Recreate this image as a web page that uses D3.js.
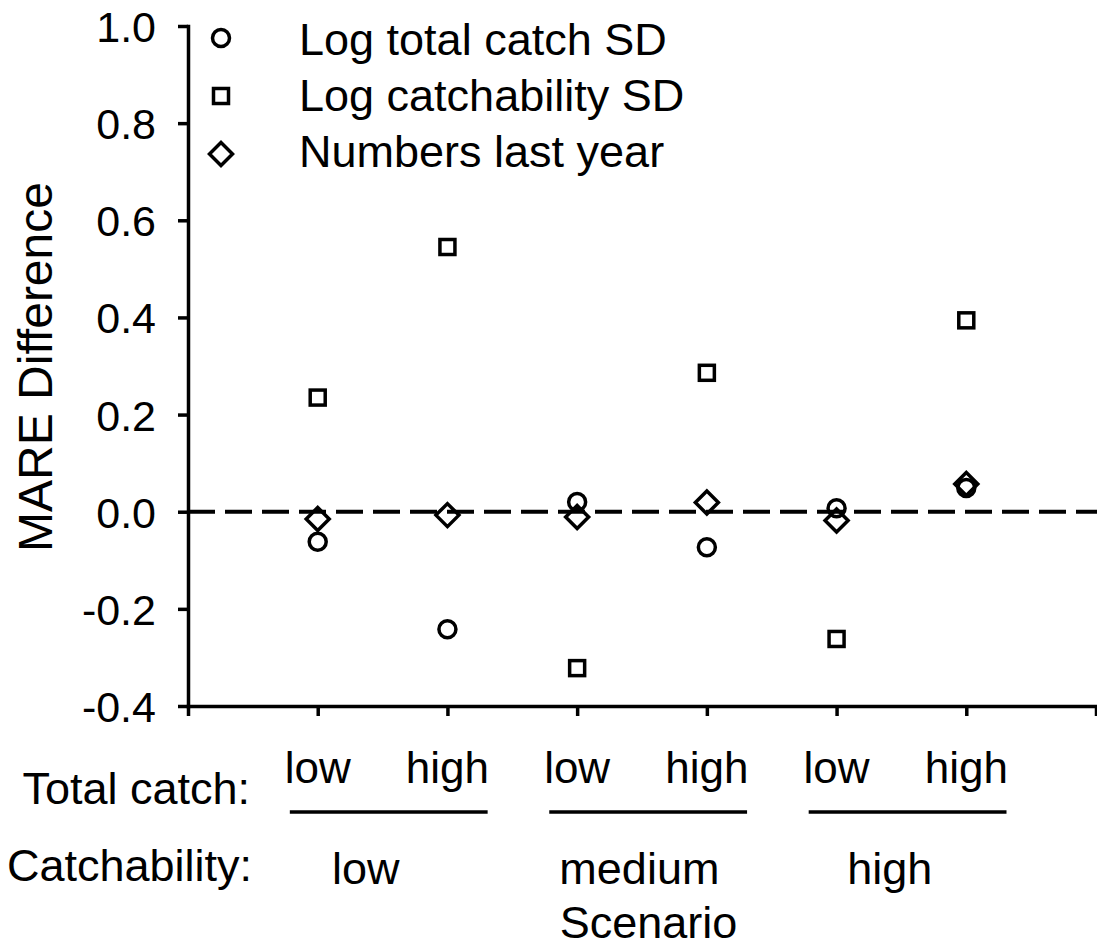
<!DOCTYPE html>
<html>
<head>
<meta charset="utf-8">
<script src="https://cdn.jsdelivr.net/npm/d3@7"></script>
<style>
  body { margin: 0; background: #fff; }
  text { font-family: "Liberation Sans", Arial, sans-serif; fill: #000; }
</style>
</head>
<body>
<div id="container"></div>
<script>
/* CONSTANTS AND GLOBALS */
const width = 1097;
const height = 949;

/* DATA */
// six scenarios, positions 1..6 on the x axis
const scenarios = [1, 2, 3, 4, 5, 6];
const totalCatchLabels = ["low", "high", "low", "high", "low", "high"];
const catchabilityLabels = ["low", "medium", "high"];
const catchabilityPos = [1.37, 3.48, 5.41];   // where the group labels sit (x units)
const groupPairs = [[1, 2], [3, 4], [5, 6]];

const logTotalCatchSD = [-0.062, -0.242, 0.020, -0.073, 0.007, 0.049];
const logCatchabilitySD = [0.235, 0.545, -0.322, 0.286, -0.262, 0.394];
const numbersLastYear = [-0.015, -0.007, -0.011, 0.019, -0.018, 0.057];

const yTicks = [-0.4, -0.2, 0.0, 0.2, 0.4, 0.6, 0.8, 1.0];
const legendNames = ["Log total catch SD", "Log catchability SD", "Numbers last year"];

/* SCALES */
const xScale = d3.scaleLinear()
  .domain([0, 7])
  .range([188, 1096]);

const yScale = d3.scaleLinear()
  .domain([-0.4, 1.0])
  .range([706, 26]);

/* HTML ELEMENTS */
const svg = d3.select("#container")
  .append("svg")
    .attr("width", width)
    .attr("height", height);

// symbols
const circle = (g, cx, cy) => g.append("circle")
  .attr("cx", cx).attr("cy", cy).attr("r", 8.5);
const square = (g, cx, cy) => g.append("rect")
  .attr("x", cx - 7.5).attr("y", cy - 7.5).attr("width", 15).attr("height", 15);
const diamond = (g, cx, cy) => g.append("path")
  .attr("d", `M${cx},${cy - 11.5}L${cx + 11.5},${cy}L${cx},${cy + 11.5}L${cx - 11.5},${cy}Z`);
const shapes = [circle, square, diamond];

// zero line
svg.append("line")
  .attr("x1", xScale(0))
  .attr("x2", width)
  .attr("y1", yScale(0))
  .attr("y2", yScale(0))
  .attr("stroke", "#000")
  .attr("stroke-width", 4)
  .attr("stroke-dasharray", "27,10");

// axes
const yAxis = svg.append("g")
  .attr("transform", `translate(${xScale(0)},0)`)
  .call(d3.axisLeft(yScale)
    .tickValues(yTicks)
    .tickFormat(d => d.toFixed(1))
    .tickSize(10)
    .tickSizeOuter(0)
    .tickPadding(22));

const xAxis = svg.append("g")
  .attr("transform", `translate(0,${yScale(-0.4)})`)
  .call(d3.axisBottom(xScale)
    .tickValues(d3.range(0, 8))
    .tickFormat("")
    .tickSize(10)
    .tickSizeOuter(0));

[xAxis, yAxis].forEach(a => {
  a.selectAll("path, line").attr("stroke", "#000").attr("stroke-width", 3.5);
  a.select(".domain").attr("stroke-linecap", "square");
});
yAxis.selectAll("text")
  .attr("font-size", 43)
  .attr("font-family", "Liberation Sans, Arial, sans-serif")
  .attr("fill", "#000")
  .attr("dy", "0.36em");

// points
const series = [logTotalCatchSD, logCatchabilitySD, numbersLastYear];
const marks = svg.append("g")
  .attr("fill", "none")
  .attr("stroke", "#000")
  .attr("stroke-width", 3.5);
series.forEach((vals, i) => {
  vals.forEach((v, j) => shapes[i](marks, xScale(scenarios[j]), yScale(v)));
});

// legend
const legend = svg.append("g");
const legendSym = legend.append("g")
  .attr("fill", "none")
  .attr("stroke", "#000")
  .attr("stroke-width", 3.5);
legendNames.forEach((name, i) => {
  shapes[i](legendSym, 221, 38 + i * 58);
  legend.append("text")
    .attr("x", 299)
    .attr("y", 55 + i * 56)
    .attr("font-size", 45)
    .text(name);
});

// y title
svg.append("text")
  .attr("transform", "translate(52,367) rotate(-90)")
  .attr("text-anchor", "middle")
  .attr("font-size", 48)
  .text("MARE Difference");

// scenario labels under the axis
svg.append("text")
  .attr("x", 250)
  .attr("y", 804)
  .attr("text-anchor", "end")
  .attr("font-size", 45)
  .text("Total catch:");

svg.selectAll(".tc")
  .data(totalCatchLabels)
  .join("text")
    .attr("class", "tc")
    .attr("x", (d, i) => xScale(scenarios[i]))
    .attr("y", 783)
    .attr("text-anchor", "middle")
    .attr("font-size", 44)
    .text(d => d);

svg.selectAll(".grp")
  .data(groupPairs)
  .join("line")
    .attr("class", "grp")
    .attr("x1", d => xScale(d[0] - 0.215))
    .attr("x2", d => xScale(d[1] + 0.31))
    .attr("y1", 812)
    .attr("y2", 812)
    .attr("stroke", "#000")
    .attr("stroke-width", 3.5);

svg.append("text")
  .attr("x", 252)
  .attr("y", 881)
  .attr("text-anchor", "end")
  .attr("font-size", 45)
  .text("Catchability:");

svg.selectAll(".cb")
  .data(catchabilityLabels)
  .join("text")
    .attr("class", "cb")
    .attr("x", (d, i) => xScale(catchabilityPos[i]))
    .attr("y", 884)
    .attr("text-anchor", "middle")
    .attr("font-size", 45)
    .text(d => d);

svg.append("text")
  .attr("x", xScale(3.55))
  .attr("y", 938)
  .attr("text-anchor", "middle")
  .attr("font-size", 45)
  .text("Scenario");
</script>
</body>
</html>
